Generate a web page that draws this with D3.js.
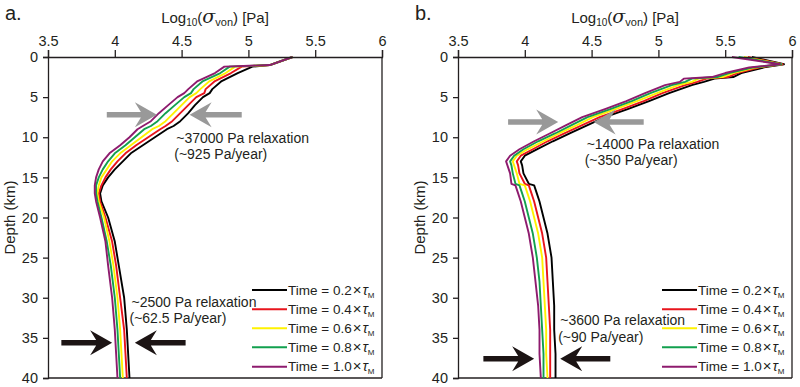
<!DOCTYPE html>
<html><head><meta charset="utf-8">
<script src="https://cdn.jsdelivr.net/npm/d3@7"></script>
<style>
body{margin:0;background:#fff}
svg text{font-family:Arial,"Liberation Sans",sans-serif;fill:#231f20}
</style>
</head><body><svg id="c" width="800" height="387"></svg>
<script>
// ---------- data ----------
const xTickValues = [3.5, 4, 4.5, 5, 5.5, 6];
const xTickLabels = ["3.5", "4", "4.5", "5", "5.5", "6"];
const yTickValues = [0, 5, 10, 15, 20, 25, 30, 35, 40];
const seriesLabels = ["0.2", "0.4", "0.6", "0.8", "1.0"];
const seriesColors = ["#000000", "#e8151d", "#fff200", "#12a04e", "#8e1b6e"];

// Panel a (depth km, log10 von Mises stress)
const depthA = [0, 1.0, 1.2, 2, 3, 4, 4.5, 5, 6, 7, 8, 8.6, 9, 10, 11, 12, 13, 14, 15, 16, 17, 18, 20, 23, 26, 30, 34, 37, 40];
const a02 = [5.33, 5.16, 5.03, 4.92, 4.80, 4.73, 4.71, 4.66, 4.60, 4.55, 4.49, 4.44, 4.39, 4.30, 4.21, 4.12, 4.06, 4.00, 3.95, 3.91, 3.89, 3.90, 3.95, 4.00, 4.03, 4.07, 4.09, 4.10, 4.11];
const a04 = [5.33, 5.16, 4.95, 4.87, 4.75, 4.68, 4.67, 4.61, 4.55, 4.49, 4.43, 4.38, 4.34, 4.25, 4.16, 4.08, 4.02, 3.97, 3.93, 3.90, 3.88, 3.89, 3.93, 3.98, 4.01, 4.04, 4.07, 4.08, 4.09];
const a06 = [5.33, 5.16, 4.90, 4.83, 4.71, 4.64, 4.61, 4.56, 4.50, 4.44, 4.38, 4.33, 4.28, 4.20, 4.12, 4.04, 3.98, 3.94, 3.90, 3.88, 3.87, 3.88, 3.92, 3.96, 3.99, 4.02, 4.04, 4.05, 4.06];
const a08 = [5.33, 5.16, 4.86, 4.79, 4.66, 4.59, 4.57, 4.52, 4.45, 4.38, 4.32, 4.27, 4.22, 4.15, 4.08, 4.00, 3.95, 3.91, 3.88, 3.86, 3.86, 3.87, 3.90, 3.94, 3.97, 4.00, 4.02, 4.03, 4.04];
const a10 = [5.33, 5.16, 4.82, 4.75, 4.62, 4.55, 4.52, 4.47, 4.40, 4.33, 4.27, 4.21, 4.17, 4.11, 4.04, 3.96, 3.91, 3.88, 3.86, 3.85, 3.85, 3.86, 3.89, 3.93, 3.95, 3.98, 4.00, 4.01, 4.02];

// Panel b
const depthB = [0, 0.9, 1.3, 2.0, 2.5, 2.7, 3.1, 3.5, 4.5, 5.5, 6.5, 7.5, 8.5, 9.5, 10.5, 11.5, 12.3, 13.0, 13.5, 14.5, 15.8, 16.0, 17, 18, 20, 22, 25, 28, 31, 34, 37, 40];
const b02 = [5.70, 5.94, 5.79, 5.62, 5.56, 5.42, 5.34, 5.25, 5.08, 4.93, 4.77, 4.60, 4.47, 4.34, 4.21, 4.09, 4.00, 3.97, 3.98, 3.99, 4.03, 4.07, 4.09, 4.11, 4.14, 4.17, 4.20, 4.21, 4.22, 4.22, 4.23, 4.23];
const b04 = [5.67, 5.93, 5.76, 5.59, 5.52, 5.36, 5.29, 5.20, 5.03, 4.89, 4.73, 4.56, 4.43, 4.30, 4.17, 4.06, 3.97, 3.94, 3.95, 3.96, 4.00, 4.03, 4.05, 4.07, 4.10, 4.13, 4.16, 4.17, 4.18, 4.19, 4.19, 4.19];
const b06 = [5.64, 5.92, 5.73, 5.56, 5.48, 5.30, 5.25, 5.15, 4.99, 4.84, 4.68, 4.51, 4.39, 4.26, 4.14, 4.02, 3.94, 3.91, 3.92, 3.94, 3.96, 4.00, 4.02, 4.04, 4.07, 4.10, 4.13, 4.14, 4.15, 4.16, 4.16, 4.17];
const b08 = [5.60, 5.92, 5.71, 5.53, 5.44, 5.25, 5.20, 5.10, 4.94, 4.80, 4.64, 4.47, 4.35, 4.23, 4.10, 3.99, 3.92, 3.89, 3.90, 3.91, 3.93, 3.96, 3.98, 4.00, 4.03, 4.06, 4.09, 4.11, 4.12, 4.13, 4.14, 4.14];
const b10 = [5.55, 5.91, 5.68, 5.50, 5.40, 5.19, 5.16, 5.05, 4.90, 4.76, 4.60, 4.43, 4.31, 4.19, 4.07, 3.96, 3.89, 3.86, 3.87, 3.89, 3.90, 3.93, 3.95, 3.97, 4.00, 4.03, 4.06, 4.08, 4.10, 4.11, 4.11, 4.12];

// annotations (data units)
const notesA = [
  {lines: ["~37000 Pa relaxation", "(~925 Pa/year)"], x: 4.46, d: 10.1},
  {lines: ["~2500 Pa relaxation", "(~62.5 Pa/year)"], x: 4.125, d: 30.5}
];
const notesB = [
  {lines: ["~14000 Pa relaxation", "(~350 Pa/year)"], x: 4.463, d: 10.85},
  {lines: ["~3600 Pa relaxation", "(~90 Pa/year)"], x: 4.265, d: 32.8}
];
const arrowsA = [
  {from: 3.94, to: 4.315, d: 7.2, color: "#999999"},
  {from: 4.95, to: 4.56, d: 7.2, color: "#999999"},
  {from: 3.60, to: 3.98, d: 35.6, color: "#1c1414"},
  {from: 4.53, to: 4.15, d: 35.6, color: "#1c1414"}
];
const arrowsB = [
  {from: 3.875, to: 4.25, d: 8.1, color: "#999999"},
  {from: 4.89, to: 4.515, d: 8.1, color: "#999999"},
  {from: 3.69, to: 4.07, d: 37.6, color: "#1c1414"},
  {from: 4.64, to: 4.265, d: 37.6, color: "#1c1414"}
];

// ---------- drawing ----------
const svg = d3.select("#c");
const panels = [
  {label: "a.", left: 48, right: 382, depth: depthA, series: [a02, a04, a06, a08, a10], notes: notesA, arrows: arrowsA},
  {label: "b.", left: 458, right: 792, depth: depthB, series: [b02, b04, b06, b08, b10], notes: notesB, arrows: arrowsB}
];
const plotTop = 57, plotBottom = 378;
const axisColor = "#231f20";

panels.forEach(p => {
  const x = d3.scaleLinear().domain([3.5, 6]).range([p.left, p.right]);
  const y = d3.scaleLinear().domain([0, 40]).range([plotTop, plotBottom]);
  const g = svg.append("g");

  g.append("line").attr("x1", p.right).attr("x2", p.right).attr("y1", plotTop).attr("y2", plotBottom)
    .attr("stroke", axisColor).attr("stroke-width", 1.3);
  g.append("line").attr("x1", p.left).attr("x2", p.right).attr("y1", plotBottom).attr("y2", plotBottom)
    .attr("stroke", axisColor).attr("stroke-width", 1.3);

  [0, 1, 2, 3, 4].forEach(i => {
    const pts = p.depth.map((d, k) => [p.series[i][k], d]);
    g.append("path")
      .attr("d", d3.line().x(v => x(v[0])).y(v => y(v[1]))(pts))
      .attr("fill", "none").attr("stroke", seriesColors[i]).attr("stroke-width", 1.9)
      .attr("stroke-linejoin", "round");
  });

  const xa = g.append("g").attr("transform", `translate(0,${plotTop})`)
    .call(d3.axisTop(x).tickValues(xTickValues).tickFormat((d, i) => xTickLabels[i]).tickSizeOuter(0).tickSize(7).tickPadding(4));
  const ya = g.append("g").attr("transform", `translate(${p.left},0)`)
    .call(d3.axisLeft(y).tickValues(yTickValues).tickSizeOuter(0).tickSize(5).tickPadding(5));
  [xa, ya].forEach(a => {
    a.select(".domain").attr("stroke", axisColor).attr("stroke-width", 1.3);
    a.selectAll(".tick line").attr("stroke", axisColor).attr("stroke-width", 1.3);
    a.selectAll(".tick text").attr("font-size", 14.5).attr("fill", axisColor)
      .style("font-family", "Arial, 'Liberation Sans', sans-serif");
  });

  const cx = (p.left + p.right) / 2;
  const t = g.append("text").attr("x", cx).attr("y", 23).attr("text-anchor", "middle").attr("font-size", 15);
  t.append("tspan").text("Log");
  t.append("tspan").attr("font-size", 10).attr("dy", 3).text("10");
  t.append("tspan").attr("dy", -3).text("(");
  t.append("tspan").attr("font-size", 19).attr("font-style", "italic").style("font-family", "'DejaVu Serif', serif").text("σ");
  t.append("tspan").attr("font-size", 11).attr("dy", 3).text("von");
  t.append("tspan").attr("dy", -3).text(") [Pa]");

  g.append("text").attr("transform", `translate(${p.left - 33},${(plotTop + plotBottom) / 2}) rotate(-90)`)
    .attr("text-anchor", "middle").attr("font-size", 15).text("Depth (km)");

  g.append("text").attr("x", p.left - 43).attr("y", 20).attr("font-size", 20).text(p.label);

  p.arrows.forEach(a => {
    const x0 = x(a.from), x1 = x(a.to), yc = y(a.d);
    const s = Math.sign(x1 - x0), L = 22, H = 12.5, T = 2.8, N = 6;
    const pts = [[x0, yc - T], [x1 - s * (L - N), yc - T], [x1 - s * L, yc - H], [x1, yc],
                 [x1 - s * L, yc + H], [x1 - s * (L - N), yc + T], [x0, yc + T]];
    g.append("path").attr("d", "M" + pts.map(q => q.join(",")).join("L") + "Z").attr("fill", a.color);
  });

  p.notes.forEach(n => {
    n.lines.forEach((ln, k) => {
      g.append("text").attr("x", x(n.x) - (k === 1 ? 2 : 0)).attr("y", y(n.d) + k * 16.5).attr("dy", "0.35em")
        .attr("font-size", 14).text(ln);
    });
  });

  const ly = [290, 309.3, 328.3, 347.3, 366.7];
  seriesLabels.forEach((lab, i) => {
    g.append("line").attr("x1", p.right - 130).attr("x2", p.right - 95).attr("y1", ly[i]).attr("y2", ly[i])
      .attr("stroke", seriesColors[i]).attr("stroke-width", 2);
    const tx = g.append("text").attr("x", p.right - 94).attr("y", ly[i]).attr("dy", "0.35em").attr("font-size", 13.5);
    tx.append("tspan").text("Time = " + lab);
    tx.append("tspan").attr("font-size", 15).attr("dx", 1).text("×");
    tx.append("tspan").attr("font-size", 14.5).attr("font-style", "italic").attr("dx", 1).text("τ");
    tx.append("tspan").attr("font-size", 8).attr("dy", 3).text("M");
  });
});
</script></body></html>
